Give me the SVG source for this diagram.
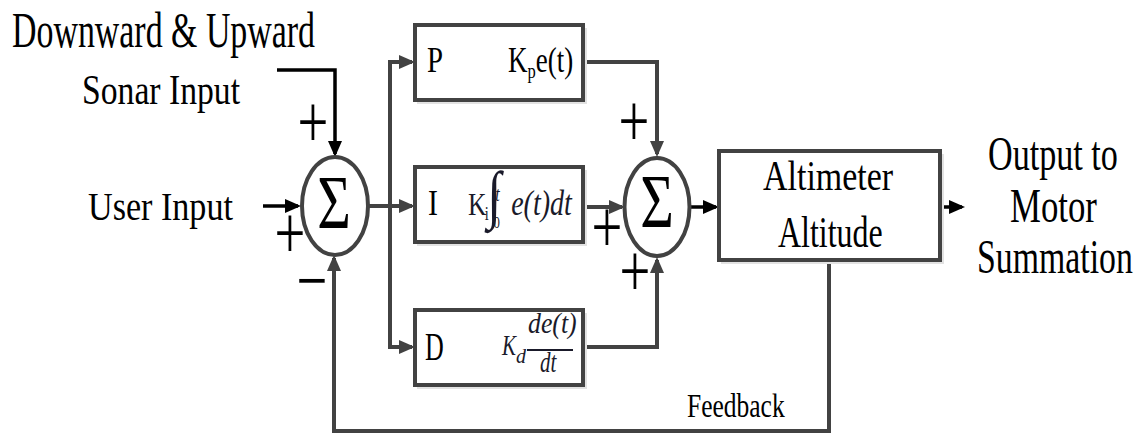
<svg xmlns="http://www.w3.org/2000/svg" width="1147" height="434" viewBox="0 0 1147 434">
<style>
text{font-family:"Liberation Serif","Times New Roman",serif;fill:#000}
.box{fill:#fff;stroke:#424242;stroke-width:4}
.shadow{fill:#e2e2e2;stroke:none}
.sum{fill:#fff;stroke:#424242;stroke-width:4}
.g{fill:none;stroke:#424242;stroke-width:4;marker-end:url(#ag)}
.k{fill:none;stroke:#000;stroke-width:3.5;marker-end:url(#ak)}
.m{font-style:italic;fill:#1a1a2a}
.mu{fill:#1a1a2a}
.it{font-style:italic}
.pm{font-size:76px;text-anchor:middle}
</style>
<defs>
<marker id="ag" markerUnits="userSpaceOnUse" markerWidth="16" markerHeight="14" refX="13" refY="7" orient="auto"><path d="M0,0 L16,7 L0,14 z" fill="#424242"/></marker>
<marker id="ak" markerUnits="userSpaceOnUse" markerWidth="16" markerHeight="14" refX="13" refY="7" orient="auto"><path d="M0,0 L16,7 L0,14 z" fill="#000"/></marker>
</defs>

<g id="connectors">
<path class="k" d="M277 70 H335 V154"/>
<path class="k" d="M263 206 H298"/>
<path class="g" d="M368 206 H412"/>
<path class="g" d="M390 206 V62 H412"/>
<path class="g" d="M390 206 V347 H412"/>
<path class="g" d="M583 62 H657 V154"/>
<path class="g" d="M583 207 H622"/>
<path class="g" d="M583 347 H657 V260"/>
<path class="k" d="M690 207 H716"/>
<path class="k" d="M940 207 H962"/>
<path class="g" d="M829 260 V431 H334 V258"/>
</g>

<g id="labels">
<text font-size="50" transform="translate(12 47) scale(0.678 1)">Downward &amp; Upward</text>
<text font-size="43" transform="translate(82 104) scale(0.783 1)">Sonar Input</text>
<text font-size="39" transform="translate(88 220) scale(0.875 1)">User Input</text>
<text font-size="49" transform="translate(988 170) scale(0.697 1)">Output to</text>
<text font-size="49" transform="translate(1010 222) scale(0.71 1)">Motor</text>
<text font-size="49" transform="translate(977 273) scale(0.69 1)">Summation</text>
<text font-size="34" transform="translate(687 417) scale(0.75 1)">Feedback</text>
<text class="pm" transform="translate(313 147) scale(0.72 1)">+</text>
<text class="pm" transform="translate(290 258) scale(0.72 1)">+</text>
<text class="pm" transform="translate(312 306) scale(0.72 1)">−</text>
<text class="pm" transform="translate(634 146) scale(0.72 1)">+</text>
<text class="pm" transform="translate(607 252) scale(0.72 1)">+</text>
<text class="pm" transform="translate(635 296) scale(0.72 1)">+</text>
</g>

<g id="sum1">
<ellipse class="sum" cx="335" cy="206" rx="33" ry="49"/>
<text font-size="77" text-anchor="middle" transform="translate(334 228) scale(0.75 1)">Σ</text>
</g>

<g id="sum2">
<ellipse class="sum" cx="657" cy="207" rx="32.5" ry="49"/>
<text font-size="77" text-anchor="middle" transform="translate(657 227) scale(0.75 1)">Σ</text>
</g>

<g id="p-box">
<rect class="shadow" x="417" y="28" width="170" height="76"/>
<rect class="box" x="415" y="25" width="168" height="75"/>
<text font-size="36" transform="translate(427 72) scale(0.8 1)">P</text>
<text transform="translate(508 72) scale(0.75 1)" font-size="36">K<tspan font-size="22" dy="6">p</tspan><tspan dy="-6">e(t)</tspan></text>
</g>

<g id="i-box">
<rect class="shadow" x="417" y="170" width="170" height="76"/>
<rect class="box" x="415" y="167" width="168" height="75"/>
<text font-size="35" transform="translate(428 215) scale(0.85 1)">I</text>
<text class="mu" transform="translate(468 0) scale(0.8 1)"><tspan x="0" y="215" font-size="32">K</tspan><tspan x="21" y="220" font-size="18">i</tspan><tspan x="24" y="216" font-size="64">∫</tspan><tspan class="it" x="34" y="201" font-size="20">t</tspan><tspan x="32" y="228" font-size="16">0</tspan><tspan class="it" x="54" y="215" font-size="35">e(t)dt</tspan></text>
</g>

<g id="d-box">
<rect class="shadow" x="417" y="313" width="170" height="76"/>
<rect class="box" x="415" y="310" width="168" height="75"/>
<text font-size="40" transform="translate(425 360) scale(0.65 1)">D</text>
<text class="m" font-size="30" transform="translate(502 355) scale(0.7 1)">K</text>
<text class="m" x="516" y="363" font-size="20">d</text>
<text class="m" font-size="30" transform="translate(528 333) scale(0.86 1)">de(t)</text>
<path d="M527 350 H573" stroke="#1a1a2a" stroke-width="2"/>
<text class="m" font-size="30" transform="translate(540 372) scale(0.7 1)">dt</text>
</g>

<g id="altimeter">
<rect class="shadow" x="721" y="154" width="223" height="110"/>
<rect class="box" x="719" y="151" width="221" height="109"/>
<text font-size="43" transform="translate(763 190) scale(0.79 1)">Altimeter</text>
<text font-size="45" transform="translate(778 247) scale(0.71 1)">Altitude</text>
</g>
</svg>
